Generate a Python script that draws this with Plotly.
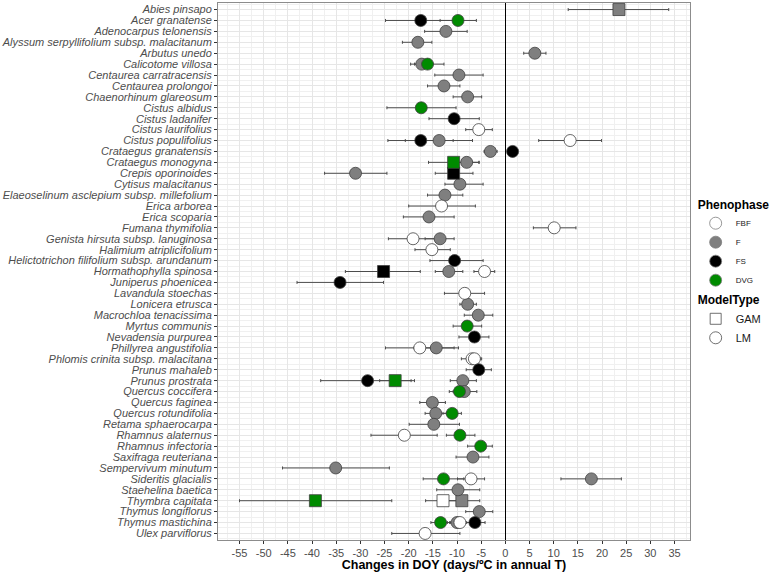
import plotly.graph_objects as go

species = [
    "Abies pinsapo", "Acer granatense", "Adenocarpus telonensis",
    "Alyssum serpyllifolium subsp. malacitanum", "Arbutus unedo", "Calicotome villosa",
    "Centaurea carratracensis", "Centaurea prolongoi", "Chaenorhinum glareosum",
    "Cistus albidus", "Cistus ladanifer", "Cistus laurifolius", "Cistus populifolius",
    "Crataegus granatensis", "Crataegus monogyna", "Crepis oporinoides",
    "Cytisus malacitanus", "Elaeoselinum asclepium subsp. millefolium", "Erica arborea",
    "Erica scoparia", "Fumana thymifolia", "Genista hirsuta subsp. lanuginosa",
    "Halimium atriplicifolium", "Helictotrichon filifolium subsp. arundanum",
    "Hormathophylla spinosa", "Juniperus phoenicea", "Lavandula stoechas",
    "Lonicera etrusca", "Macrochloa tenacissima", "Myrtus communis",
    "Nevadensia purpurea", "Phillyrea angustifolia", "Phlomis crinita subsp. malacitana",
    "Prunus mahaleb", "Prunus prostrata", "Quercus coccifera", "Quercus faginea",
    "Quercus rotundifolia", "Retama sphaerocarpa", "Rhamnus alaternus",
    "Rhamnus infectoria", "Saxifraga reuteriana", "Sempervivum minutum",
    "Sideritis glacialis", "Staehelina baetica", "Thymbra capitata",
    "Thymus longiflorus", "Thymus mastichina", "Ulex parviflorus",
]

# one row per estimate
pt_species = [
    "Abies pinsapo", "Acer granatense", "Acer granatense", "Adenocarpus telonensis",
    "Alyssum serpyllifolium subsp. malacitanum", "Arbutus unedo", "Calicotome villosa",
    "Calicotome villosa", "Centaurea carratracensis", "Centaurea prolongoi",
    "Chaenorhinum glareosum", "Cistus albidus", "Cistus ladanifer", "Cistus laurifolius",
    "Cistus populifolius", "Cistus populifolius", "Cistus populifolius",
    "Crataegus granatensis", "Crataegus granatensis", "Crataegus monogyna",
    "Crataegus monogyna", "Crepis oporinoides", "Crepis oporinoides",
    "Cytisus malacitanus", "Elaeoselinum asclepium subsp. millefolium", "Erica arborea",
    "Erica scoparia", "Fumana thymifolia", "Genista hirsuta subsp. lanuginosa",
    "Genista hirsuta subsp. lanuginosa", "Halimium atriplicifolium",
    "Helictotrichon filifolium subsp. arundanum", "Hormathophylla spinosa",
    "Hormathophylla spinosa", "Hormathophylla spinosa", "Juniperus phoenicea",
    "Lavandula stoechas", "Lonicera etrusca", "Macrochloa tenacissima", "Myrtus communis",
    "Nevadensia purpurea", "Phillyrea angustifolia", "Phillyrea angustifolia",
    "Phlomis crinita subsp. malacitana", "Phlomis crinita subsp. malacitana",
    "Prunus mahaleb", "Prunus prostrata", "Prunus prostrata", "Prunus prostrata",
    "Quercus coccifera", "Quercus coccifera", "Quercus faginea", "Quercus rotundifolia",
    "Quercus rotundifolia", "Retama sphaerocarpa", "Rhamnus alaternus",
    "Rhamnus alaternus", "Rhamnus infectoria", "Saxifraga reuteriana",
    "Sempervivum minutum", "Sideritis glacialis", "Sideritis glacialis",
    "Sideritis glacialis", "Staehelina baetica", "Thymbra capitata", "Thymbra capitata",
    "Thymbra capitata", "Thymus longiflorus", "Thymus mastichina", "Thymus mastichina",
    "Thymus mastichina", "Thymus mastichina", "Ulex parviflorus",
]
pt_phase = [
    "F", "FS", "DVG", "F", "F", "F", "F", "DVG", "F", "F",
    "F", "DVG", "FS", "FBF", "FS", "F", "FBF", "F", "FS", "DVG",
    "F", "F", "FS", "F", "F", "FBF", "F", "FBF", "FBF", "F",
    "FBF", "FS", "FS", "F", "FBF", "FS", "FBF", "F", "F", "DVG",
    "FS", "FBF", "F", "FBF", "FBF", "FS", "FS", "DVG", "F", "F",
    "DVG", "F", "F", "DVG", "F", "FBF", "DVG", "DVG", "F", "F",
    "DVG", "FBF", "F", "F", "DVG", "FBF", "F", "F", "DVG", "F",
    "FBF", "FS", "FBF",
]
pt_model = [
    "GAM", "LM", "LM", "LM", "LM", "LM", "LM", "LM", "LM", "LM",
    "LM", "LM", "LM", "LM", "LM", "LM", "LM", "LM", "LM", "GAM",
    "LM", "LM", "GAM", "LM", "LM", "LM", "LM", "LM", "LM", "LM",
    "LM", "LM", "GAM", "LM", "LM", "LM", "LM", "LM", "LM", "LM",
    "LM", "LM", "LM", "LM", "LM", "LM", "LM", "GAM", "LM", "LM",
    "LM", "LM", "LM", "LM", "LM", "LM", "LM", "LM", "LM", "LM",
    "LM", "LM", "LM", "LM", "GAM", "GAM", "GAM", "LM", "LM", "LM",
    "LM", "LM", "LM",
]
pt_est = [
    23.5, -17.5, -9.8, -12.3, -18.1, 6.1, -17.3, -16.1, -9.6, -12.7,
    -7.8, -17.4, -10.6, -5.5, -17.5, -13.7, 13.4, -3.1, 1.5, -10.7,
    -8.0, -31.0, -10.7, -9.4, -12.5, -13.2, -15.8, 10.1, -19.1, -13.5,
    -15.2, -10.5, -25.2, -11.7, -4.3, -34.2, -8.4, -7.8, -5.6, -7.9,
    -6.4, -17.7, -14.3, -6.9, -6.4, -5.5, -28.5, -22.8, -8.8, -8.5,
    -9.5, -15.1, -14.4, -11.0, -14.8, -20.9, -9.4, -5.1, -6.7, -35.1,
    -12.8, -7.1, 17.8, -9.8, -39.3, -12.9, -9.0, -5.4, -13.4, -10.0,
    -9.4, -6.3, -16.6,
]
pt_lo = [
    13.0, -24.8, -13.5, -16.7, -21.3, 3.8, -19.6, -18.8, -14.6, -16.1,
    -10.8, -24.5, -15.8, -8.2, -24.3, -20.7, 6.9, -4.4, 1.0, -15.9,
    -10.5, -37.4, -14.5, -12.5, -16.1, -20.0, -21.1, 5.8, -24.2, -16.6,
    -18.7, -15.6, -33.1, -14.5, -6.5, -43.1, -12.6, -9.4, -8.5, -10.8,
    -9.6, -24.8, -18.9, -9.1, -8.0, -8.1, -38.2, -26.0, -11.4, -10.8,
    -11.6, -17.7, -16.6, -12.9, -19.9, -27.8, -12.2, -7.8, -10.2, -46.1,
    -17.0, -9.9, 11.5, -14.2, -55.0, -16.5, -12.8, -8.2, -15.4, -12.0,
    -11.5, -8.4, -23.5,
]
pt_hi = [
    33.8, -10.2, -6.0, -7.9, -15.2, 8.4, -15.0, -12.7, -4.6, -9.4,
    -4.9, -10.2, -5.4, -2.7, -10.8, -6.8, 19.9, -1.7, 2.0, -5.5,
    -5.4, -24.5, -6.7, -4.6, -8.8, -6.2, -10.6, 14.6, -14.0, -10.6,
    -11.4, -4.6, -17.6, -8.8, -2.2, -25.2, -4.3, -6.0, -2.6, -4.9,
    -3.4, -10.6, -9.7, -5.1, -4.9, -2.9, -18.8, -19.5, -6.0, -5.9,
    -7.4, -12.4, -12.2, -9.1, -9.5, -14.1, -6.3, -2.7, -3.4, -24.0,
    -8.6, -4.3, 24.0, -5.3, -23.5, -9.3, -5.3, -2.6, -11.4, -8.0,
    -7.3, -4.2, -9.4,
]

phases = ["FBF", "F", "FS", "DVG"]
phase_colors = {"FBF": "#ffffff", "F": "#7f7f7f", "FS": "#000000", "DVG": "#008b00"}
models = ["GAM", "LM"]
model_symbols = {"GAM": "square", "LM": "circle"}
draw_order = ["F", "FBF", "FS", "DVG"]

x_ticks = [-55, -50, -45, -40, -35, -30, -25, -20, -15, -10, -5, 0, 5, 10, 15, 20, 25, 30, 35]
x_ticktext = ["-55", "-50", "-45", "-40", "-35", "-30", "-25", "-20", "-15", "-10", "-5",
              "0", "5", "10", "15", "20", "25", "30", "35"]

FONT = "Liberation Sans, Arial, sans-serif"
yidx = {s: i for i, s in enumerate(species)}

fig = go.Figure()

# error bars (drawn beneath points)
fig.add_trace(go.Scatter(
    x=pt_est, y=[yidx[s] for s in pt_species], mode="markers",
    marker=dict(size=1, opacity=0), showlegend=False, hoverinfo="skip",
    error_x=dict(type="data", symmetric=False,
                 array=[h - e for h, e in zip(pt_hi, pt_est)],
                 arrayminus=[e - l for e, l in zip(pt_est, pt_lo)],
                 color="#4d4d4d", thickness=1, width=1.5),
))

for ph in draw_order:
    for m in models:
        idx = [i for i in range(len(pt_est)) if pt_phase[i] == ph and pt_model[i] == m]
        if not idx:
            continue
        fig.add_trace(go.Scatter(
            x=[pt_est[i] for i in idx], y=[yidx[pt_species[i]] for i in idx],
            mode="markers", showlegend=False, hoverinfo="skip",
            marker=dict(symbol=model_symbols[m], size=12, color=phase_colors[ph],
                        line=dict(color="#404040", width=0.8)),
        ))

# legends
for ph in phases:
    fig.add_trace(go.Scatter(
        x=[None], y=[None], mode="markers", name=ph, legend="legend",
        marker=dict(symbol="circle", size=12, color=phase_colors[ph],
                    line=dict(color="#7f7f7f", width=0.8)),
    ))
for m in models:
    fig.add_trace(go.Scatter(
        x=[None], y=[None], mode="markers", name=m, legend="legend2",
        marker=dict(symbol=model_symbols[m], size=12 if m == "LM" else 11, color="#ffffff",
                    line=dict(color="#4d4d4d", width=0.8)),
    ))

fig.update_layout(
    width=777, height=572,
    margin=dict(l=216, r=87, t=2, b=29),
    paper_bgcolor="white", plot_bgcolor="white",
    font=dict(family=FONT, color="#000000"),
    legend=dict(x=1.012, xanchor="left", y=0.646, yanchor="top",
                title=dict(text="<b>Phenophase</b>", font=dict(size=12, color="#000")),
                font=dict(size=8, color="#1a1a1a"), itemsizing="trace",
                bgcolor="rgba(0,0,0,0)", tracegroupgap=0),
    legend2=dict(x=1.012, xanchor="left", y=0.468, yanchor="top",
                 title=dict(text="<b>ModelType</b>", font=dict(size=12, color="#000")),
                 font=dict(size=11, color="#1a1a1a"), itemsizing="trace",
                 bgcolor="rgba(0,0,0,0)", tracegroupgap=0),
    xaxis=dict(
        range=[-59.45, 38.2], tickmode="array", tickvals=x_ticks, ticktext=x_ticktext,
        tickfont=dict(size=11, color="#4d4d4d"), ticks="outside", ticklen=3,
        tickcolor="#333333",
        showgrid=True, gridcolor="#e6e6e6", gridwidth=1,
        minor=dict(tickmode="linear", tick0=0, dtick=2.5, showgrid=True,
                   gridcolor="#f0f0f0", gridwidth=0.6, ticks=""),
        zeroline=True, zerolinecolor="#000000", zerolinewidth=1.2,
        showline=True, linecolor="#8c8c8c", linewidth=1, mirror=True,
        title=dict(text="<b>Changes in DOY (days/ºC in annual T)</b>",
                   font=dict(size=12.5, color="#000000"), standoff=2),
    ),
    yaxis=dict(
        range=[48.6, -0.6], tickmode="array", tickvals=list(range(len(species))),
        ticktext=species, tickfont=dict(size=11, color="#4d4d4d", style="italic"),
        ticks="outside", ticklen=3, tickcolor="#333333",
        showgrid=True, gridcolor="#e6e6e6", gridwidth=1,
        minor=dict(tickmode="linear", tick0=0.5, dtick=1, showgrid=True,
                   gridcolor="#f0f0f0", gridwidth=0.6, ticks=""),
        zeroline=False,
        showline=True, linecolor="#8c8c8c", linewidth=1, mirror=True,
    ),
)

fig.write_html("out.html")
